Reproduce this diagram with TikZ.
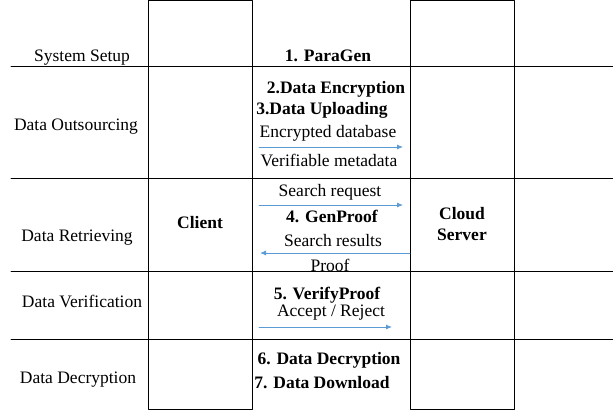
\documentclass[tikz,border=0pt]{standalone}
\usepackage{fontspec}
\setmainfont{Liberation Serif}
\usetikzlibrary{positioning,arrows.meta}
\definecolor{msgblue}{RGB}{91,155,213}

\tikzset{
    phase/.style={anchor=base,font=\fontsize{17.5}{20}\selectfont},
    algo/.style={anchor=base,font=\fontsize{17.5}{20}\selectfont\bfseries},
    msg/.style={anchor=base,font=\fontsize{17.5}{20}\selectfont},
    flow/.style={draw=msgblue,line width=0.9pt,-{Latex[length=6pt,width=5pt]}},
    party/.style={draw,line width=0.9pt,minimum width=104pt,minimum height=409pt,anchor=north west,inner sep=0pt}
}

\begin{document}
\begin{tikzpicture}[x=1pt,y=-1pt,line cap=round,line join=round]
    \useasboundingbox (0,0) rectangle (613,412);
    \node[party] (clientcol) at (148,0) {};
    \node[party] (servercol) at (410,0) {};
    \foreach \y in {66,178,271,339}
        \draw[line width=0.9pt] (11,\y) -- (613,\y);
    \node[phase] (setup) at (82,62) {System Setup};
    \node[phase] (outsrc) at (76,130) {Data Outsourcing};
    \node[phase] (retrv) at (77,241) {Data Retrieving};
    \node[phase] (verif) at (82,307) {Data Verification};
    \node[phase] (decr) at (78,383) {Data Decryption};
    \node[algo] (client) at (200,228) {Client};
    \node[algo] (cloud) at (462,219) {Cloud};
    \node[algo] (server) at (462,240) {Server};
    \node[algo] (paragen) at (328,62) {1. ParaGen};
    \node[algo] (encrypt) at (336,93) {2.Data Encryption};
    \node[algo] (upload) at (322,114) {3.Data Uploading};
    \node[msg] (encdb) at (328,137) {Encrypted database};
    \node[msg] (meta) at (329,166) {Verifiable metadata};
    \node[msg] (sreq) at (330,196) {Search request};
    \node[algo] (genproof) at (332,222) {4. GenProof};
    \node[msg] (sres) at (333,246) {Search results};
    \node[msg] (proof) at (330,271) {Proof};
    \node[algo] (vproof) at (327,299) {5. VerifyProof};
    \node[msg] (accrej) at (331,316) {Accept / Reject};
    \node[algo] (decrypt) at (329,364) {6. Data Decryption};
    \node[algo] (dload) at (322,388) {7. Data Download};
    \coordinate (upA) at (259,147);
    \coordinate (upB) at (403,147);
    \coordinate (reqA) at (259,205);
    \coordinate (reqB) at (403,205);
    \coordinate (resA) at (410,253);
    \coordinate (resB) at (260,253);
    \coordinate (accA) at (259,327);
    \coordinate (accB) at (392,327);
    \draw[flow] (upA) -- (upB);
    \draw[flow] (reqA) -- (reqB);
    \draw[flow] (resA) -- (resB);
    \draw[flow] (accA) -- (accB);
\end{tikzpicture}
\end{document}
